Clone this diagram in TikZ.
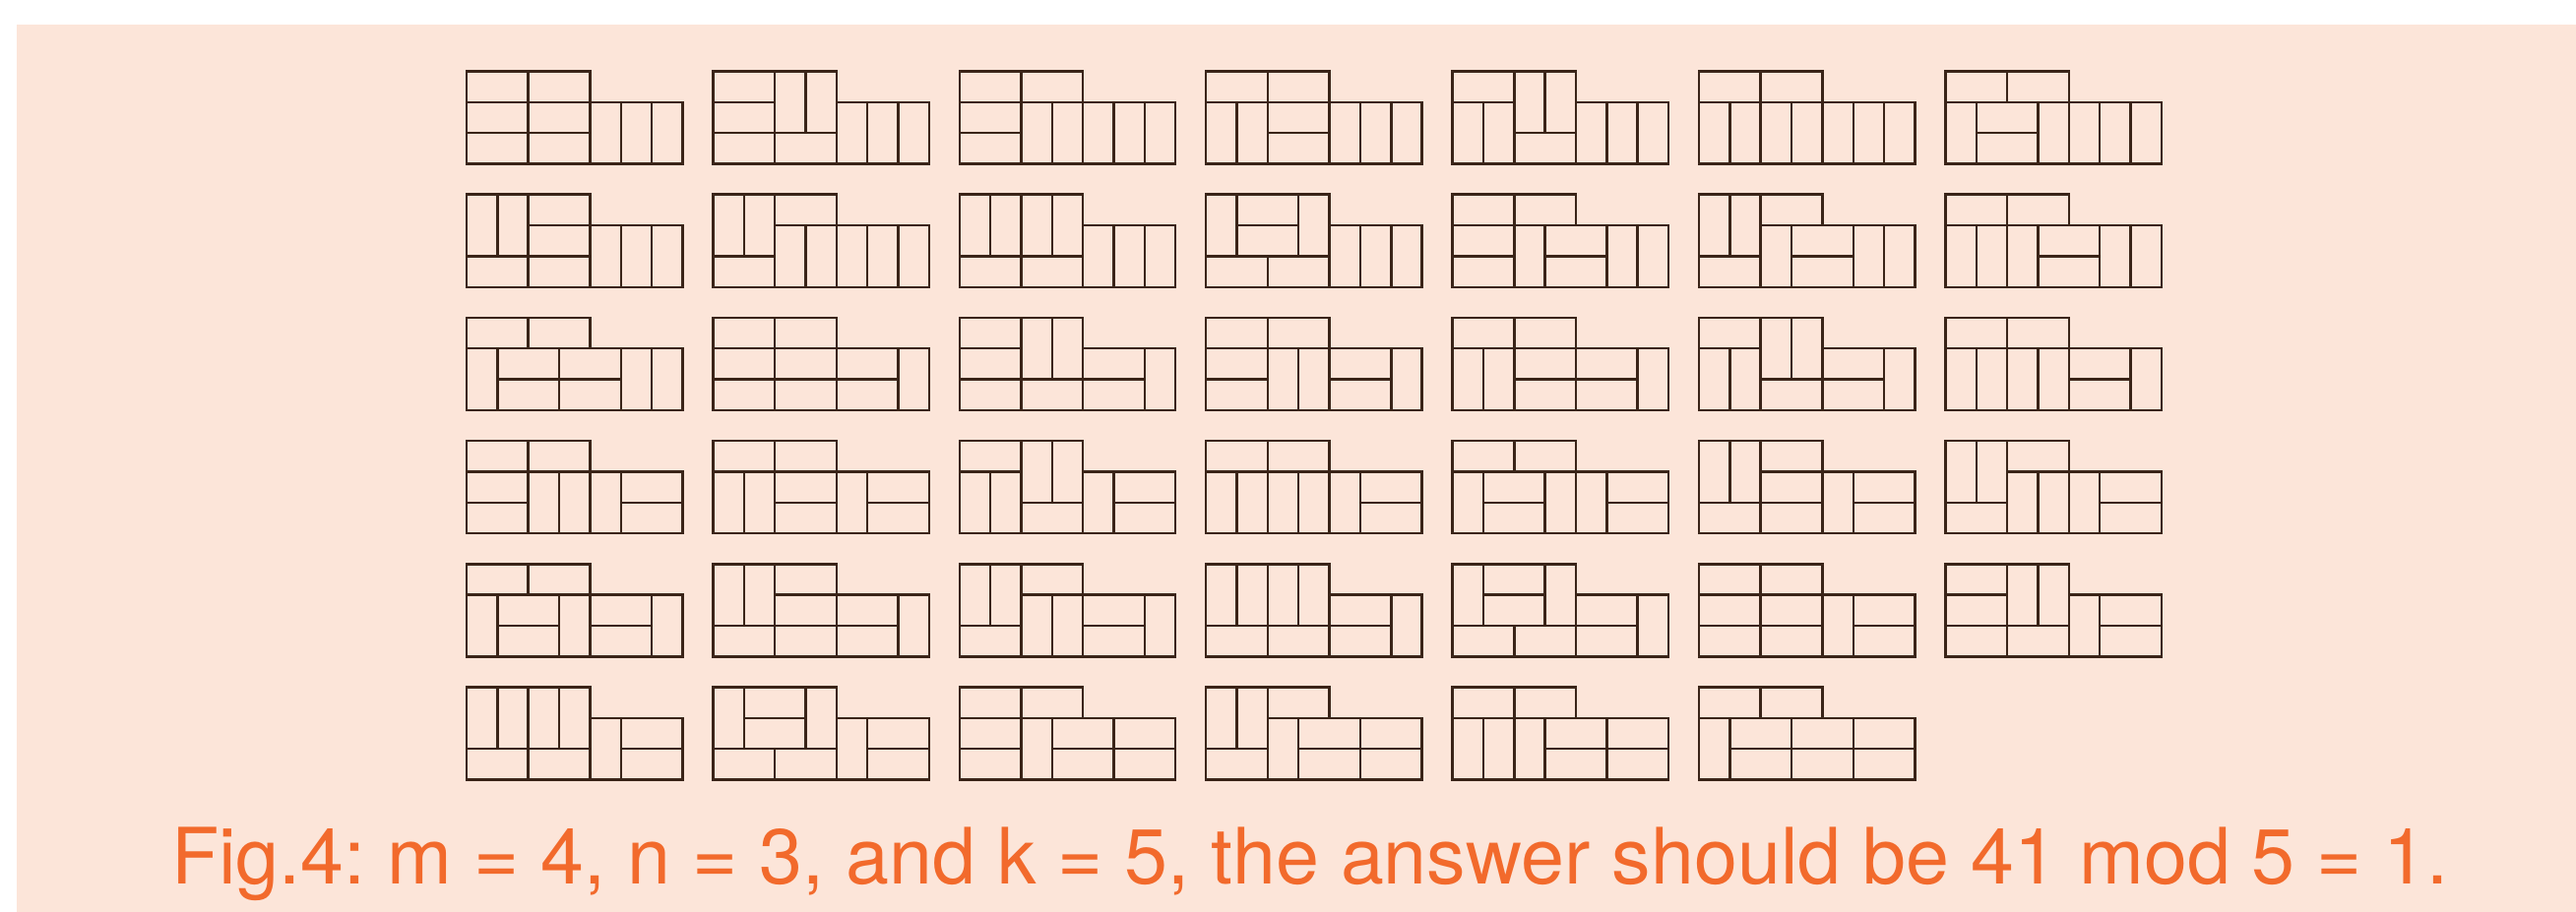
\documentclass[tikz,border=0pt]{standalone}
\usepackage{fontspec}
\setmainfont{TeX Gyre Heros}
\usepackage{graphicx}
\definecolor{peach}{HTML}{FCE5D9}
\definecolor{capt}{HTML}{F26A2C}
\definecolor{ink}{HTML}{3A2418}
\def\cs{31.35}
\tikzset{dom/.style={draw=ink,line width=0.7pt,line join=miter}}
\newcommand\tiling[3]{%
  \begin{scope}[shift={(474+250.4*#1,72.5+125.2*#2)}]
    \foreach \c/\r/\o in {#3}{%
      \if\o h\draw[dom] (\c*\cs,\r*\cs) rectangle ++(2*\cs,\cs);%
      \else\draw[dom] (\c*\cs,\r*\cs) rectangle ++(\cs,2*\cs);\fi
    }
  \end{scope}}
\begin{document}
\frenchspacing
\begin{tikzpicture}[x=0.01cm,y=-0.01cm]
\useasboundingbox (0,0) rectangle (2617,927);
\fill[white] (0,0) rectangle (2617,927);
\fill[peach] (17,25) rectangle (2617,927);
% row 1
\tiling{0}{0}{0/0/h,2/0/h,0/1/h,2/1/h,0/2/h,2/2/h,4/1/v,5/1/v,6/1/v}
\tiling{1}{0}{0/0/h,2/0/v,3/0/v,0/1/h,0/2/h,2/2/h,4/1/v,5/1/v,6/1/v}
\tiling{2}{0}{0/0/h,2/0/h,0/1/h,0/2/h,2/1/v,3/1/v,4/1/v,5/1/v,6/1/v}
\tiling{3}{0}{0/0/h,2/0/h,0/1/v,1/1/v,2/1/h,2/2/h,4/1/v,5/1/v,6/1/v}
\tiling{4}{0}{0/0/h,2/0/v,3/0/v,0/1/v,1/1/v,2/2/h,4/1/v,5/1/v,6/1/v}
\tiling{5}{0}{0/0/h,2/0/h,0/1/v,1/1/v,2/1/v,3/1/v,4/1/v,5/1/v,6/1/v}
\tiling{6}{0}{0/0/h,2/0/h,0/1/v,1/1/h,1/2/h,3/1/v,4/1/v,5/1/v,6/1/v}
% row 2
\tiling{0}{1}{0/0/v,1/0/v,2/0/h,2/1/h,0/2/h,2/2/h,4/1/v,5/1/v,6/1/v}
\tiling{1}{1}{0/0/v,1/0/v,2/0/h,0/2/h,2/1/v,3/1/v,4/1/v,5/1/v,6/1/v}
\tiling{2}{1}{0/0/v,1/0/v,2/0/v,3/0/v,0/2/h,2/2/h,4/1/v,5/1/v,6/1/v}
\tiling{3}{1}{0/0/v,1/0/h,3/0/v,1/1/h,0/2/h,2/2/h,4/1/v,5/1/v,6/1/v}
\tiling{4}{1}{0/0/h,2/0/h,0/1/h,0/2/h,2/1/v,3/1/h,3/2/h,5/1/v,6/1/v}
\tiling{5}{1}{0/0/v,1/0/v,2/0/h,0/2/h,2/1/v,3/1/h,3/2/h,5/1/v,6/1/v}
\tiling{6}{1}{0/0/h,2/0/h,0/1/v,1/1/v,2/1/v,3/1/h,3/2/h,5/1/v,6/1/v}
% row 3
\tiling{0}{2}{0/0/h,2/0/h,0/1/v,1/1/h,3/1/h,1/2/h,3/2/h,5/1/v,6/1/v}
\tiling{1}{2}{0/0/h,2/0/h,0/1/h,2/1/h,4/1/h,0/2/h,2/2/h,4/2/h,6/1/v}
\tiling{2}{2}{0/0/h,2/0/v,3/0/v,0/1/h,0/2/h,2/2/h,4/1/h,4/2/h,6/1/v}
\tiling{3}{2}{0/0/h,2/0/h,0/1/h,0/2/h,2/1/v,3/1/v,4/1/h,4/2/h,6/1/v}
\tiling{4}{2}{0/0/h,2/0/h,0/1/v,1/1/v,2/1/h,2/2/h,4/1/h,4/2/h,6/1/v}
\tiling{5}{2}{0/0/h,2/0/v,3/0/v,0/1/v,1/1/v,2/2/h,4/1/h,4/2/h,6/1/v}
\tiling{6}{2}{0/0/h,2/0/h,0/1/v,1/1/v,2/1/v,3/1/v,4/1/h,4/2/h,6/1/v}
% row 4
\tiling{0}{3}{0/0/h,2/0/h,0/1/h,0/2/h,2/1/v,3/1/v,4/1/v,5/1/h,5/2/h}
\tiling{1}{3}{0/0/h,2/0/h,0/1/v,1/1/v,2/1/h,2/2/h,4/1/v,5/1/h,5/2/h}
\tiling{2}{3}{0/0/h,2/0/v,3/0/v,0/1/v,1/1/v,2/2/h,4/1/v,5/1/h,5/2/h}
\tiling{3}{3}{0/0/h,2/0/h,0/1/v,1/1/v,2/1/v,3/1/v,4/1/v,5/1/h,5/2/h}
\tiling{4}{3}{0/0/h,2/0/h,0/1/v,1/1/h,1/2/h,3/1/v,4/1/v,5/1/h,5/2/h}
\tiling{5}{3}{0/0/v,1/0/v,2/0/h,2/1/h,0/2/h,2/2/h,4/1/v,5/1/h,5/2/h}
\tiling{6}{3}{0/0/v,1/0/v,2/0/h,0/2/h,2/1/v,3/1/v,4/1/v,5/1/h,5/2/h}
% row 5
\tiling{0}{4}{0/0/h,2/0/h,0/1/v,1/1/h,1/2/h,3/1/v,4/1/h,4/2/h,6/1/v}
\tiling{1}{4}{0/0/v,1/0/v,2/0/h,0/2/h,2/1/h,2/2/h,4/1/h,4/2/h,6/1/v}
\tiling{2}{4}{0/0/v,1/0/v,2/0/h,0/2/h,2/1/v,3/1/v,4/1/h,4/2/h,6/1/v}
\tiling{3}{4}{0/0/v,1/0/v,2/0/v,3/0/v,4/1/h,0/2/h,2/2/h,4/2/h,6/1/v}
\tiling{4}{4}{0/0/v,1/0/h,1/1/h,3/0/v,0/2/h,2/2/h,4/1/h,4/2/h,6/1/v}
\tiling{5}{4}{0/0/h,2/0/h,0/1/h,2/1/h,0/2/h,2/2/h,4/1/v,5/1/h,5/2/h}
\tiling{6}{4}{0/0/h,2/0/v,3/0/v,0/1/h,0/2/h,2/2/h,4/1/v,5/1/h,5/2/h}
% row 6
\tiling{0}{5}{0/0/v,1/0/v,2/0/v,3/0/v,0/2/h,2/2/h,4/1/v,5/1/h,5/2/h}
\tiling{1}{5}{0/0/v,1/0/h,1/1/h,3/0/v,0/2/h,2/2/h,4/1/v,5/1/h,5/2/h}
\tiling{2}{5}{0/0/h,2/0/h,0/1/h,0/2/h,2/1/v,3/1/h,5/1/h,3/2/h,5/2/h}
\tiling{3}{5}{0/0/v,1/0/v,2/0/h,0/2/h,2/1/v,3/1/h,5/1/h,3/2/h,5/2/h}
\tiling{4}{5}{0/0/h,2/0/h,0/1/v,1/1/v,2/1/v,3/1/h,5/1/h,3/2/h,5/2/h}
\tiling{5}{5}{0/0/h,2/0/h,0/1/v,1/1/h,3/1/h,5/1/h,1/2/h,3/2/h,5/2/h}
% caption
\node[anchor=base,inner sep=0pt,text=capt] (cap) at (1331,898)
  {\resizebox{23.12cm}{!}{Fig.4: m = 4, n = 3, and k = 5, the answer should be 41 mod 5 = 1.}};
\end{tikzpicture}
\end{document}
